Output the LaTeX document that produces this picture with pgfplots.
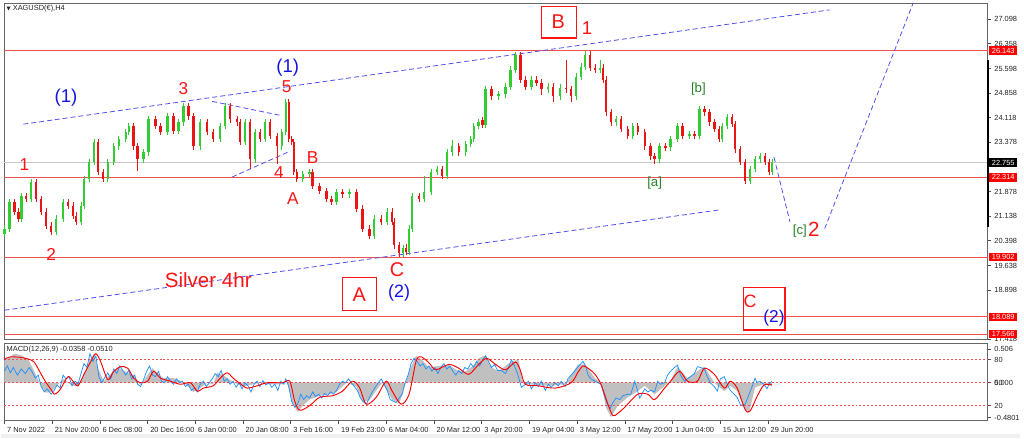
\documentclass[border=0pt]{standalone}
\usepackage{pgfplots}
\pgfplotsset{compat=1.18}
\usepackage{pgfplotstable}
\usepackage{fontspec}
\setmainfont{Liberation Sans}
\newfontfamily\symfont{DejaVu Sans}

\definecolor{upc}{RGB}{50,205,50}
\definecolor{dnc}{RGB}{235,20,20}
\definecolor{lvl}{RGB}{240,80,80}
\definecolor{wred}{RGB}{255,20,20}
\definecolor{wblue}{RGB}{20,20,230}
\definecolor{wgreen}{RGB}{40,130,40}
\definecolor{chan}{RGB}{80,80,240}
\definecolor{macdgray}{RGB}{192,192,192}
\definecolor{macdblue}{RGB}{30,144,255}

% 4h candles: x in chart pixels, open high low close
\pgfplotstableread{
x o h l c
3 20.60 20.86 20.50 20.76
8 20.76 21.67 20.66 21.57
13 21.57 21.67 21.17 21.27
17 21.27 21.37 20.96 21.06
20 21.06 21.85 20.96 21.75
25 21.75 21.85 21.56 21.66
30 21.66 22.27 21.56 22.17
35 22.17 22.27 21.56 21.66
40 21.66 21.76 21.17 21.27
45 21.27 21.37 20.75 20.85
50 20.85 20.95 20.57 20.67
55 20.67 21.16 20.57 21.06
62 21.06 21.67 20.96 21.57
67 21.57 21.67 21.35 21.45
72 21.45 21.55 21.05 21.15
75 21.15 21.25 20.87 20.97
80 20.97 21.55 20.87 21.45
83 21.45 22.36 21.35 22.26
88 22.26 22.87 22.16 22.77
93 22.77 23.48 22.67 23.38
97 23.38 23.48 22.37 22.47
102 22.47 22.57 22.16 22.26
107 22.26 22.87 22.16 22.77
113 22.77 23.35 22.67 23.25
118 23.25 23.57 23.15 23.47
125 23.47 23.78 23.37 23.68
128 23.68 23.96 23.58 23.86
133 23.86 23.96 23.15 23.25
137 23.25 23.35 22.50 22.86
143 22.86 23.17 22.76 23.07
148 23.07 24.17 22.97 24.07
155 24.07 24.17 23.76 23.86
160 23.86 23.96 23.58 23.68
167 23.68 24.26 23.58 24.16
173 24.16 24.26 23.61 23.71
178 23.71 24.08 23.61 23.98
183 23.98 24.56 23.88 24.46
188 24.46 24.56 24.06 24.16
193 24.16 24.26 23.15 23.25
200 23.25 24.08 23.15 23.98
207 23.98 24.08 23.58 23.68
213 23.68 23.78 23.37 23.47
220 23.47 23.96 23.37 23.86
225 23.86 24.56 23.76 24.46
230 24.46 24.56 23.97 24.07
237 24.07 24.17 23.88 23.98
240 23.98 24.08 23.28 23.38
245 23.38 24.08 23.28 23.98
250 23.98 24.08 22.56 22.86
255 22.86 23.78 22.76 23.68
260 23.68 23.78 23.37 23.47
265 23.47 24.08 23.37 23.98
270 23.98 24.08 23.46 23.56
277 23.56 23.66 22.70 23.25
282 23.25 23.78 23.15 23.68
286 23.68 24.68 23.58 24.58
289 24.58 24.68 23.37 23.47
292 23.47 23.57 23.28 23.38
294 23.38 23.48 22.37 22.47
297 22.47 22.57 22.16 22.26
303 22.26 22.51 22.16 22.41
310 22.41 22.57 22.31 22.47
313 22.47 22.57 21.95 22.05
320 22.05 22.15 21.80 21.90
327 21.90 22.00 21.56 21.66
332 21.66 21.76 21.47 21.57
337 21.57 21.97 21.47 21.87
343 21.87 21.97 21.70 21.80
350 21.80 21.97 21.70 21.87
357 21.87 21.97 21.26 21.36
363 21.36 21.46 20.66 20.76
370 20.76 20.86 20.45 20.55
375 20.55 21.16 20.45 21.06
382 21.06 21.16 20.87 20.97
388 20.97 21.37 20.87 21.27
393 21.27 21.37 20.87 20.97
395 20.97 21.07 20.15 20.25
400 20.25 20.35 19.91 20.01
404 20.01 20.26 19.91 20.16
407 20.16 20.30 19.95 20.05
410 20.05 20.86 19.95 20.76
413 20.76 21.85 20.66 21.75
420 21.75 21.85 21.56 21.66
425 21.66 22.35 21.56 21.87
432 21.87 22.57 21.77 22.47
438 22.47 22.66 22.37 22.56
443 22.56 22.66 22.25 22.35
448 22.35 23.17 22.25 23.07
453 23.07 23.45 22.97 23.25
460 23.25 23.35 22.97 23.07
467 23.07 23.42 22.97 23.32
472 23.32 23.57 23.22 23.47
475 23.47 23.96 23.37 23.86
480 23.86 24.08 23.76 23.98
484 24.05 24.15 23.80 23.90
487 23.90 25.07 23.80 24.97
493 24.97 25.07 24.66 24.76
500 24.76 24.92 24.66 24.82
507 24.82 25.16 24.72 25.06
512 25.06 25.67 24.96 25.57
517 25.57 26.10 25.47 26.02
522 26.02 26.10 25.17 25.27
527 25.27 25.37 24.96 25.06
533 25.06 25.37 24.96 25.27
538 25.27 25.37 25.08 25.18
543 25.18 25.28 24.80 24.97
550 24.97 25.16 24.87 25.06
555 25.06 25.16 24.60 24.76
562 24.76 25.13 24.66 25.03
568 25.03 25.87 24.87 24.97
573 24.97 25.07 24.60 24.76
578 24.76 25.46 24.66 25.36
583 25.36 25.76 25.26 25.66
587 25.66 26.12 25.56 26.02
592 26.02 26.12 25.53 25.63
597 25.63 25.73 25.47 25.57
602 25.57 25.87 25.47 25.63
605 25.63 25.73 25.17 25.27
608 25.27 25.37 24.18 24.28
613 24.28 24.38 23.88 23.98
618 23.98 24.17 23.88 24.07
623 24.07 24.17 23.67 23.77
630 23.77 23.87 23.46 23.56
635 23.56 23.96 23.46 23.86
640 23.86 23.96 23.58 23.68
647 23.68 23.78 23.15 23.25
653 23.25 23.35 22.85 22.95
657 22.95 23.05 22.71 22.86
662 22.86 23.35 22.76 23.25
668 23.25 23.35 23.12 23.22
673 23.22 23.57 23.12 23.47
680 23.47 23.96 23.37 23.86
685 23.86 23.96 23.46 23.56
692 23.56 23.72 23.46 23.62
697 23.62 23.72 23.46 23.56
702 23.56 24.47 23.46 24.37
707 24.37 24.47 24.18 24.28
712 24.28 24.38 23.88 23.98
717 23.98 24.08 23.67 23.77
722 23.77 23.87 23.37 23.47
725 23.47 23.96 23.37 23.86
730 23.86 24.23 23.76 24.13
735 24.13 24.23 23.82 23.92
738 23.92 24.02 23.06 23.16
743 23.16 23.26 22.67 22.77
748 22.77 22.87 22.10 22.20
753 22.20 22.66 22.10 22.56
758 22.56 22.96 22.46 22.86
763 22.86 23.05 22.76 22.95
768 22.95 23.05 22.67 22.77
772 22.77 22.87 22.37 22.47
775 22.47 22.87 22.37 22.77
}\candles

\tikzset{
  wave/.style={inner sep=0pt, font=\fontsize{13}{13}\selectfont, text=wred},
  pbox/.style={anchor=west, fill=red, text=white, inner sep=0.6pt, minimum width=21.5pt,
    minimum height=6.5pt, font=\fontsize{5.6}{6}\selectfont},
  chanl/.style={chan, line width=0.6pt, dash pattern=on 3.75pt off 2.25pt},
}

\begin{document}
\begin{tikzpicture}
\path[fill=white] (0,0) rectangle (768pt,330.75pt);
\path[fill=black!6] (0,0) rectangle (768pt,3pt);

% ---------- price panel ----------
\begin{axis}[
  at={(2.25pt,75pt)}, anchor=south west, scale only axis,
  width=741.75pt, height=253.5pt,
  xmin=3, xmax=992, ymin=17.418, ymax=27.588,
  clip=false,
  axis line style={draw=black!60, line width=0.7pt},
  xtick=\empty,
  ytick={17.418,18.898,19.638,20.398,21.138,21.878,23.378,24.118,24.858,25.598,26.358,27.098},
  yticklabels={\raisebox{-4pt}{17.418},18.898,19.638,20.398,21.138,21.878,23.378,24.118,24.858,25.598,26.358,27.098},
  ytick pos=right, yticklabel pos=right, tick align=outside,
  major tick length=2.5pt, tick style={black!70, line width=0.5pt},
  yticklabel style={font=\fontsize{5.6}{6}\selectfont, text=black!85, xshift=-1pt},
]
% levels
\addplot[black!22, line width=0.6pt] coordinates {(3,22.755) (992,22.755)};
\addplot[lvl, line width=0.6pt] coordinates {(3,26.143) (992,26.143)};
\addplot[lvl, line width=0.6pt] coordinates {(3,22.314) (992,22.314)};
\addplot[lvl, line width=0.6pt] coordinates {(3,19.902) (992,19.902)};
\addplot[lvl, line width=0.6pt] coordinates {(3,18.089) (992,18.089)};
\addplot[lvl, line width=0.6pt] coordinates {(3,17.566) (992,17.566)};

% channel and projection lines
\addplot[chanl] coordinates {(22,23.92) (833,27.38)};
\addplot[chanl] coordinates {(3,18.29) (723,21.33)};
\addplot[chanl] coordinates {(212,24.61) (280,24.19)};
\addplot[chanl] coordinates {(232,22.32) (290,23.10)};
\addplot[chanl] coordinates {(777,22.92) (793,20.97)};
\addplot[chanl] coordinates {(828,20.76) (917,27.588)};

% candles: wicks and bodies
\addplot[draw=none, mark=none, restrict expr to domain={\thisrow{c}-\thisrow{o}}{0:100},
  error bars/.cd, y dir=both, y explicit, error mark=none,
  error bar style={draw=upc, line width=0.5pt}]
  table[x=x, y expr={(\thisrow{h}+\thisrow{l})/2}, y error expr={(\thisrow{h}-\thisrow{l})/2}] {\candles};
\addplot[draw=none, mark=none, restrict expr to domain={\thisrow{c}-\thisrow{o}}{-100:-0.0001},
  error bars/.cd, y dir=both, y explicit, error mark=none,
  error bar style={draw=dnc, line width=0.5pt}]
  table[x=x, y expr={(\thisrow{h}+\thisrow{l})/2}, y error expr={(\thisrow{h}-\thisrow{l})/2}] {\candles};
\addplot[draw=none, mark=none, restrict expr to domain={\thisrow{c}-\thisrow{o}}{0:100},
  error bars/.cd, y dir=both, y explicit, error mark=none,
  error bar style={draw=upc, line width=1.8pt}]
  table[x=x, y expr={(\thisrow{o}+\thisrow{c})/2}, y error expr={abs(\thisrow{c}-\thisrow{o})/2}] {\candles};
\addplot[draw=none, mark=none, restrict expr to domain={\thisrow{c}-\thisrow{o}}{-100:-0.0001},
  error bars/.cd, y dir=both, y explicit, error mark=none,
  error bar style={draw=dnc, line width=1.8pt}]
  table[x=x, y expr={(\thisrow{o}+\thisrow{c})/2}, y error expr={abs(\thisrow{c}-\thisrow{o})/2}] {\candles};

% wave labels
\node[wave, text=wblue, font=\fontsize{14}{14}\selectfont] at (65,24.73) {(1)};
\node[wave, text=wblue, font=\fontsize{14}{14}\selectfont] at (288,25.63) {(1)};
\node[wave] at (287,25.06) {5};
\node[wave] at (183,25.00) {3};
\node[wave] at (23,22.71) {1};
\node[wave] at (50,19.97) {2};
\node[wave] at (279,22.47) {4};
\node[wave] at (313,22.92) {B};
\node[wave] at (293,21.66) {A};
\node[wave, font=\fontsize{15.5}{15.5}\selectfont] at (208,19.19) {Silver 4hr};
\node[wave, font=\fontsize{15}{15}\selectfont] at (398,19.52) {C};
\node[wave, text=wblue, font=\fontsize{13.5}{13.5}\selectfont] at (400,18.80) {(2)};
\draw[wred, line width=0.9pt] (343,19.28) rectangle (377,18.29);
\node[wave, font=\fontsize{15}{15}\selectfont] at (360,18.77) {A};
\draw[wred, line width=0.9pt] (543,27.47) rectangle (578,26.53);
\node[wave, font=\fontsize{15}{15}\selectfont] at (560,27.02) {B};
\node[wave, font=\fontsize{14}{14}\selectfont] at (589,26.84) {1};
\node[wave, text=wgreen, font=\fontsize{10}{10}\selectfont] at (701,24.97) {[b]};
\node[wave, text=wgreen, font=\fontsize{10}{10}\selectfont] at (657,22.14) {[a]};
\node[wave, text=wgreen, font=\fontsize{10}{10}\selectfont] at (803,20.70) {[c]};
\node[wave, font=\fontsize{15.5}{15.5}\selectfont] at (817,20.73) {2};
\draw[wred, line width=0.9pt] (746,18.98) rectangle (788,17.69);
\node[wave, font=\fontsize{13.5}{13.5}\selectfont] at (753,18.56) {C};
\node[wave, text=wblue, font=\fontsize{13}{13}\selectfont] at (777,18.05) {(2)};

% title and price scale markers
\node[anchor=west, inner sep=0pt, font=\fontsize{5.6}{6}\selectfont, text=black!85] at (5,27.41)
  {{\symfont\fontsize{4}{4}\selectfont▼}\ XAGUSD(€),H4};
\draw[black, line width=1.4pt] (992.6,25.87) -- (992.6,20.82);
\node[pbox] at (993,26.143) {26.143};
\node[pbox, fill=black] at (993,22.755) {22.755};
\node[pbox] at (993,22.314) {22.314};
\node[pbox] at (993,19.902) {19.902};
\node[pbox] at (993,18.089) {18.089};
\node[pbox] at (993,17.566) {17.566};
\end{axis}

% ---------- MACD panel ----------
\begin{axis}[
  at={(2.25pt,13.5pt)}, anchor=south west, scale only axis,
  width=741.75pt, height=58.5pt,
  xmin=3, xmax=992, ymin=0.5, ymax=102,
  clip=false,
  axis line style={draw=black!60, line width=0.7pt},
  xtick={3,51,99,147,195,243,291,339,387,435,483,531,579,627,675,723,771},
  xticklabels={7 Nov 2022,21 Nov 20:00,6 Dec 08:00,20 Dec 16:00,6 Jan 00:00,20 Jan 08:00,
    3 Feb 16:00,19 Feb 23:00,6 Mar 04:00,20 Mar 12:00,3 Apr 20:00,19 Apr 04:00,
    3 May 12:00,17 May 20:00,1 Jun 04:00,15 Jun 12:00,29 Jun 20:00},
  xtick pos=bottom, tick align=outside,
  xticklabel style={anchor=north west, font=\fontsize{5.6}{6}\selectfont, text=black!85, xshift=-1.5pt, yshift=1pt},
  ytick={4.4,20,50,80,94.3},
  yticklabels={-0.4801,20,\rlap{50}0.000,80,0.506},
  ytick pos=right, yticklabel pos=right,
  major tick length=2.5pt, tick style={black!70, line width=0.5pt},
  yticklabel style={font=\fontsize{5.6}{6}\selectfont, text=black!85, xshift=-1pt},
]
% MACD main as a filled area about the zero level
\addplot[fill=macdgray, draw=none] coordinates {
(3,50)(3,80)(7,82)(13,88)(20,86)(27,80)(33,65)(40,45)(45,37)(50,38)(57,48)(63,55)(70,47)(77,45)
(83,60)(88,78)(93,88)(97,70)(103,52)(110,62)(117,70)(127,63)(133,60)(140,47)(147,60)(152,69)
(157,62)(163,56)(173,56)(180,53)(187,46)(193,38)(200,43)(207,50)(213,48)(217,63)(223,60)
(233,51)(243,45)(250,47)(260,50)(270,48)(283,48)(287,52)(293,22)(298,12)(303,20)(310,28)
(320,33)(330,35)(337,38)(347,50)(357,45)(363,25)(370,27)(377,40)(383,50)(393,28)(400,23)
(403,33)(410,65)(417,85)(423,80)(430,70)(440,72)(450,73)(460,65)(467,65)(475,73)(480,82)
(487,86)(493,70)(500,65)(513,78)(520,80)(525,48)(530,48)(550,46)(567,48)(580,74)(587,74)
(597,56)(603,50)(608,18)(613,5)(620,20)(630,31)(640,39)(647,46)(657,35)(667,46)(673,52)
(680,71)(690,56)(700,65)(707,71)(717,50)(727,39)(733,46)(740,39)(747,16)(752,11)(758,44)
(767,48)(775,46)(775,50)} -- cycle;

\addplot[lvl, line width=0.6pt, dash pattern=on 1.5pt off 1.5pt] coordinates {(3,80) (992,80)};
\addplot[lvl, line width=0.6pt, dash pattern=on 1.5pt off 1.5pt] coordinates {(3,50) (992,50)};
\addplot[lvl, line width=0.6pt, dash pattern=on 1.5pt off 1.5pt] coordinates {(3,20) (992,20)};

\addplot[macdblue, line width=0.55pt] coordinates {
(3,65)(6,72)(9,63)(12,70)(16,60)(20,68)(24,62)(28,70)(31,64)(34,56)(37,60)(40,45)(43,38)
(46,42)(50,35)(53,40)(56,47)(59,43)(62,60)(65,55)(68,58)(71,46)(74,52)(77,48)(80,62)(83,75)
(86,70)(89,88)(92,78)(95,85)(98,58)(101,50)(104,57)(107,63)(110,55)(113,68)(116,62)(119,72)
(122,66)(125,60)(128,66)(131,55)(134,60)(137,48)(140,45)(143,54)(146,65)(149,72)(152,60)
(155,58)(158,65)(161,52)(164,50)(167,58)(170,52)(173,48)(176,55)(179,50)(182,52)(185,45)
(188,48)(191,40)(194,43)(197,38)(200,48)(203,52)(206,45)(209,50)(212,55)(215,62)(218,58)
(221,66)(224,52)(227,55)(230,48)(233,52)(236,44)(239,50)(242,42)(245,50)(248,46)(251,38)
(254,48)(257,52)(260,45)(263,53)(266,47)(269,50)(272,44)(275,48)(278,40)(281,52)(284,48)
(286,55)(289,45)(292,25)(295,18)(298,22)(301,35)(304,28)(307,33)(310,30)(313,38)(316,32)
(319,35)(322,30)(325,36)(328,33)(331,38)(334,35)(337,40)(340,48)(343,52)(346,50)(349,55)
(352,50)(355,45)(358,40)(361,30)(364,25)(367,22)(370,30)(373,38)(376,44)(379,50)(382,55)
(385,48)(388,40)(391,28)(394,26)(397,24)(400,30)(403,35)(406,50)(409,60)(412,75)(415,82)
(418,78)(421,72)(424,75)(427,68)(430,72)(433,65)(436,70)(439,62)(442,70)(445,75)(448,68)
(451,72)(454,65)(457,60)(460,66)(463,62)(466,70)(469,68)(472,75)(475,70)(478,78)(481,72)
(484,80)(487,85)(490,78)(493,70)(496,74)(499,66)(503,66)(507,62)(510,70)(513,80)(516,72)
(519,62)(523,44)(527,48)(530,52)(533,42)(537,50)(540,45)(543,52)(547,40)(550,48)(553,44)
(557,50)(560,46)(563,52)(567,45)(570,56)(573,60)(577,66)(580,71)(585,78)(588,70)(590,60)
(593,55)(597,52)(600,50)(603,48)(607,31)(610,20)(612,16)(615,24)(618,30)(622,28)(625,33)
(630,35)(633,35)(637,52)(642,30)(647,42)(650,38)(653,40)(657,38)(660,52)(663,48)(667,50)
(670,60)(673,65)(677,70)(680,73)(683,60)(687,52)(690,55)(693,58)(697,62)(700,71)(703,70)
(707,68)(710,58)(713,50)(717,45)(720,39)(723,55)(727,58)(730,48)(733,40)(737,35)(740,31)
(743,22)(745,20)(748,22)(752,35)(755,45)(758,56)(760,50)(763,52)(767,48)(770,42)(772,48)
(775,52)};

\addplot[red, line width=0.7pt, smooth] coordinates {
(3,80)(5,82)(10,84)(20,83)(27,81)(33,77)(40,61)(45,50)(50,41)(53,35)(57,38)(60,43)(67,58)
(72,52)(77,46)(83,61)(90,78)(95,88)(100,77)(107,54)(113,65)(120,71)(127,69)(133,56)(140,50)
(147,52)(153,65)(160,56)(170,52)(180,48)(190,50)(197,39)(203,43)(213,46)(220,56)(227,63)
(233,56)(240,49)(247,43)(257,46)(267,50)(283,50)(290,52)(295,26)(300,14)(310,20)(320,31)
(333,33)(343,39)(353,52)(360,44)(367,22)(377,31)(387,52)(393,39)(402,22)(410,35)(417,78)
(422,84)(430,76)(437,67)(450,74)(460,69)(470,61)(480,74)(488,82)(497,74)(507,67)(517,77)
(522,66)(527,48)(540,46)(557,43)(573,50)(580,64)(585,72)(591,68)(597,61)(603,48)(610,22)
(615,7)(620,10)(627,18)(640,35)(650,35)(657,28)(667,43)(673,52)(682,65)(690,52)(700,52)
(707,69)(717,61)(727,43)(733,52)(740,43)(748,15)(753,13)(760,32)(767,47)(775,47)};

\node[anchor=west, inner sep=0pt, font=\fontsize{5.6}{6}\selectfont, text=black!85] at (5,93)
  {MACD(12,26,9) -0.0358 -0.0510};
\end{axis}
\end{tikzpicture}
\end{document}
